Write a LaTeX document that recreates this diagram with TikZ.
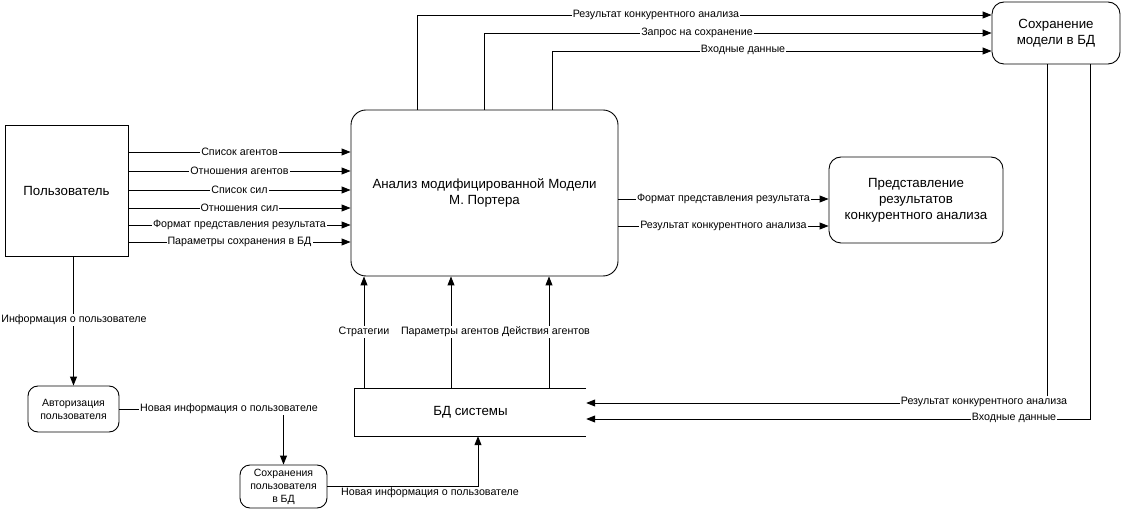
\documentclass[tikz,border=0pt]{standalone}
\usepackage{fontspec}
\setmainfont{Liberation Sans}
\usetikzlibrary{arrows.meta}
\tikzset{
  x=1pt,y=-1pt,
  ln/.style={line width=0.9pt,draw=black},
  arr/.style={ln,-{Triangle[length=9pt,width=7pt]}},
  lbl/.style={fill=white,inner sep=1pt,font=\fontsize{10.7}{12}\selectfont},
  boxtxt/.style={font=\fontsize{13.3}{16}\selectfont,align=center},
  sqbox/.style={ln,rectangle,boxtxt,inner sep=0pt},
  rbox/.style={ln,rectangle,rounded corners=12pt,boxtxt,inner sep=0pt},
  sbox/.style={ln,rectangle,rounded corners=10pt,align=center,inner sep=0pt,font=\fontsize{10.5}{13}\selectfont}
}
\begin{document}
\begin{tikzpicture}
\useasboundingbox (0,0) rectangle (1121,510);
% nodes
\node[sqbox,minimum width=123pt,minimum height=131pt] (user) at (66.5,190.5) {Пользователь};
\node[rbox,rounded corners=15pt,minimum width=267pt,minimum height=166pt] (main) at (484.5,193) {Анализ модифицированной Модели\\М. Портера};
\node[rbox,minimum width=128pt,minimum height=62pt] (save) at (1056,33) {Сохранение\\модели в БД};
\node[rbox,minimum width=174pt,minimum height=86pt] (pres) at (916,200) {Представление\\результатов\\конкурентного анализа};
\node[boxtxt,minimum width=231pt,minimum height=47pt,inner sep=0pt] (db) at (470.5,412.5) {БД системы};
\draw[ln] (db.north east) -- (db.north west) -- (db.south west) -- (db.south east);
\node[sbox,minimum width=91pt,minimum height=46pt] (auth) at (73.5,409) {Авторизация\\пользователя};
\node[sbox,minimum width=87pt,minimum height=43pt] (usave) at (283.5,486.5) {Сохранения\\пользователя\\в БД};

% user -> main
\draw[arr] (user.east |- 0,152) -- (main.west |- 0,152) node[lbl,midway] {Список агентов};
\draw[arr] (user.east |- 0,171) -- (main.west |- 0,171) node[lbl,midway] {Отношения агентов};
\draw[arr] (user.east |- 0,190) -- (main.west |- 0,190) node[lbl,midway] {Список сил};
\draw[arr] (user.east |- 0,208) -- (main.west |- 0,208) node[lbl,midway] {Отношения сил};
\draw[arr] (user.east |- 0,225) -- (main.west |- 0,225) node[lbl,midway] {Формат представления результата};
\draw[arr] (user.east |- 0,242) -- (main.west |- 0,242) node[lbl,midway] {Параметры сохранения в БД};

% main -> pres
\draw[arr] (main.east |- 0,199) -- (pres.west |- 0,199) node[lbl,midway] {Формат представления результата};
\draw[arr] (main.east |- 0,226) -- (pres.west |- 0,226) node[lbl,midway] {Результат конкурентного анализа};

% main -> save (top)
\draw[arr] (417,0 |- main.north) |- (save.west |- 0,15);
\draw[arr] (484,0 |- main.north) |- (save.west |- 0,33);
\draw[arr] (552,0 |- main.north) |- (save.west |- 0,51);
\node[lbl] at (656,15) {Результат конкурентного анализа};
\node[lbl] at (697,33) {Запрос на сохранение};
\node[lbl] at (743,50) {Входные данные};

% save -> db
\draw[arr] (1047,0 |- save.south) |- (db.east |- 0,403);
\draw[arr] (1090,0 |- save.south) |- (db.east |- 0,419);
\node[lbl] at (984,402) {Результат конкурентного анализа};
\node[lbl] at (1014,418) {Входные данные};

% db -> main
\draw[arr] (364,0 |- db.north) -- (364,0 |- main.south);
\draw[arr] (451,0 |- db.north) -- (451,0 |- main.south);
\draw[arr] (549,0 |- db.north) -- (549,0 |- main.south);
\node[lbl] at (364,332) {Стратегии};
\node[lbl] at (450,332) {Параметры агентов};
\node[lbl] at (546,332) {Действия агентов};

% user -> auth
\draw[arr] (user.south -| auth.north) -- (auth.north);
\node[lbl] at (74,320) {Информация о пользователе};

% auth -> usave
\draw[arr] (auth.east) -| (usave.north);
\node[lbl] at (229,409) {Новая информация о пользователе};

% usave -> db
\draw[arr] (usave.east) -| (478,0 |- db.south);
\node[lbl] at (430,493) {Новая информация о пользователе};
\end{tikzpicture}
\end{document}
